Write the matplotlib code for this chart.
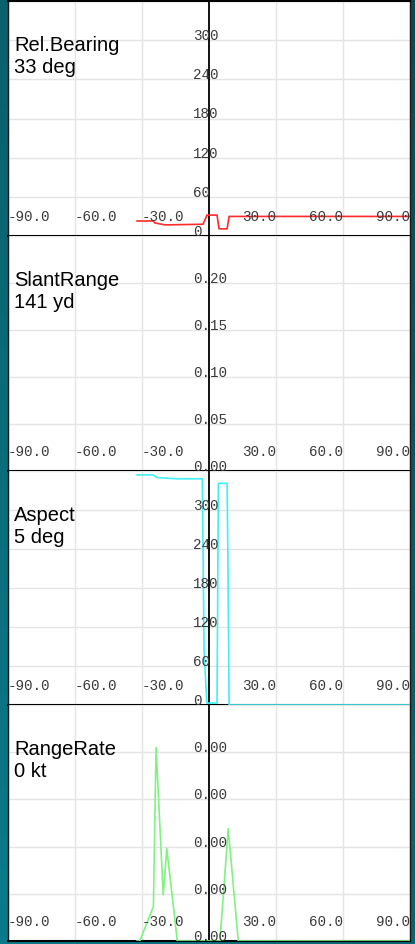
import matplotlib
matplotlib.use("Agg")
import matplotlib.pyplot as plt
import matplotlib.transforms as mtransforms
import numpy as np

# ---- data ----
x_ticks = [-90, -60, -30, 30, 60, 90]
x_tick_labels = ["-90.0", "-60.0", "-30.0", "30.0", "60.0", "90.0"]

titles = ["Rel.Bearing", "SlantRange", "Aspect", "RangeRate"]
readouts = ["33 deg", "141 yd", "5 deg", "0 kt"]

bearing_ticks = [0, 60, 120, 180, 240, 300]
range_ticks = [0.00, 0.05, 0.10, 0.15, 0.20]
aspect_ticks = [0, 60, 120, 180, 240, 300]
rate_ticks = [0.000, 0.001, 0.002, 0.003, 0.004]

bearing_x = [-32.2, -25.1, -24.2, -19.7, -2.7, -0.9, 3.6, 4.5, 8.1, 9.0, 90]
bearing_y = [23, 23, 20, 17, 18, 32, 32, 11, 11, 30, 30]

slant_x = []
slant_y = []

aspect_x = [-32.2, -25.1, -23.3, -14.3, -3.0, -2.2, -1.0, 3.6, 4.2, 8.1, 8.5, 9.0, 90]
aspect_y = [354, 354, 350, 348, 348, 85, 3, 3, 341, 341, 212, 0, 0]

rate_x = [-32.2, -31.0, -24.9, -23.7, -20.5, -18.9, -14.2, 4.9, 8.6, 13.1, 90]
rate_y = [0, 0, 0.00073, 0.0041, 0.00098, 0.00196, 0, 0, 0.00238, 0, 0]

# ---- layout ----
W, H = 415, 944
fig = plt.figure(figsize=(W / 100, H / 100), dpi=100)
fig.patch.set_facecolor("#0b6470")

# subtle background gradient (decoration only)
bg = fig.add_axes([0, 0, 1, 1], zorder=-10)
gy = np.linspace(0, 1, 200)[:, None]
gx = np.linspace(0, 1, 50)[None, :]
grad = 0.55 * gy + 0.45 * (1 - gx)
from matplotlib.colors import LinearSegmentedColormap
cmap_bg = LinearSegmentedColormap.from_list("bg", ["#0a4a52", "#0b7b8b"])
bg.imshow(grad, cmap=cmap_bg, aspect="auto", origin="upper", extent=[0, 1, 0, 1])
bg.axis("off")

panels = [(1, 236), (236, 471), (471, 705), (705, 941)]
left_px, right_px = 8, 410

series = [
    (bearing_x, bearing_y, "#ff2a2a", (0, 360), bearing_ticks, "{:.0f}"),
    (slant_x, slant_y, "#ffffff", (0, 0.25), range_ticks, "{:.2f}"),
    (aspect_x, aspect_y, "#3ff0f4", (0, 360), aspect_ticks, "{:.0f}"),
    (rate_x, rate_y, "#80f280", (0, 0.005), rate_ticks, "{:.2f}"),
]

tick_font = dict(family=["Liberation Mono", "DejaVu Sans Mono"], size=10.3, color="#3a3a3a")
title_font = dict(family=["Liberation Sans", "DejaVu Sans"], size=14.5, color="black")

for i, ((top, bot), (xs, ys, col, ylim, yticks, fmt)) in enumerate(zip(panels, series)):
    ax = fig.add_axes([left_px / W, 1 - bot / H, (right_px - left_px) / W, (bot - top) / H])
    ax.set_facecolor("white")
    ax.set_xlim(-90, 90)
    ax.set_ylim(*ylim)
    ax.set_xticks(x_ticks)
    ax.set_yticks(list(yticks) + [ylim[1]])
    ax.grid(True, color="#e4e4e4", lw=1.0)
    ax.set_axisbelow(True)
    ax.tick_params(length=0, labelbottom=False, labelleft=False)
    for s in ["left", "right"]:
        ax.spines[s].set_color("#1a1a1a")
        ax.spines[s].set_linewidth(1.0)
    ax.spines["bottom"].set_color("black")
    ax.spines["bottom"].set_linewidth(1.5)
    ax.spines["top"].set_color("black")
    ax.spines["top"].set_linewidth(1.5 if i == 0 else 0.0)

    ax.axvline(0, color="black", lw=1.3, zorder=2)

    if len(xs):
        ax.plot(xs, ys, color=col, lw=1.2, zorder=3, clip_on=True)

    # x tick labels (inside panel, near bottom)
    xtrans = mtransforms.blended_transform_factory(ax.transData, ax.transAxes)
    xtrans = mtransforms.offset_copy(xtrans, fig=fig, x=0, y=19, units="dots")
    for xv, lab in zip(x_ticks, x_tick_labels):
        ha = "left" if xv < 0 else "right"
        ax.text(xv, 0, lab, transform=xtrans, ha=ha, va="center", zorder=4, **tick_font)

    # y tick labels (along vertical axis)
    ytrans = mtransforms.offset_copy(ax.transData, fig=fig, x=-16, y=0, units="dots")
    for yv in yticks:
        ax.text(0, yv, fmt.format(yv), transform=ytrans, ha="left", va="baseline",
                zorder=4, **tick_font)

    # title and readout
    ttrans = mtransforms.offset_copy(ax.transAxes, fig=fig, x=6, y=-50, units="dots")
    ax.text(0, 1, titles[i], transform=ttrans, ha="left", va="baseline", zorder=5, **title_font)
    rtrans = mtransforms.offset_copy(ax.transAxes, fig=fig, x=6, y=-72, units="dots")
    ax.text(0, 1, readouts[i], transform=rtrans, ha="left", va="baseline", zorder=5, **title_font)

fig.savefig("out.png", dpi=100, facecolor=fig.get_facecolor())
